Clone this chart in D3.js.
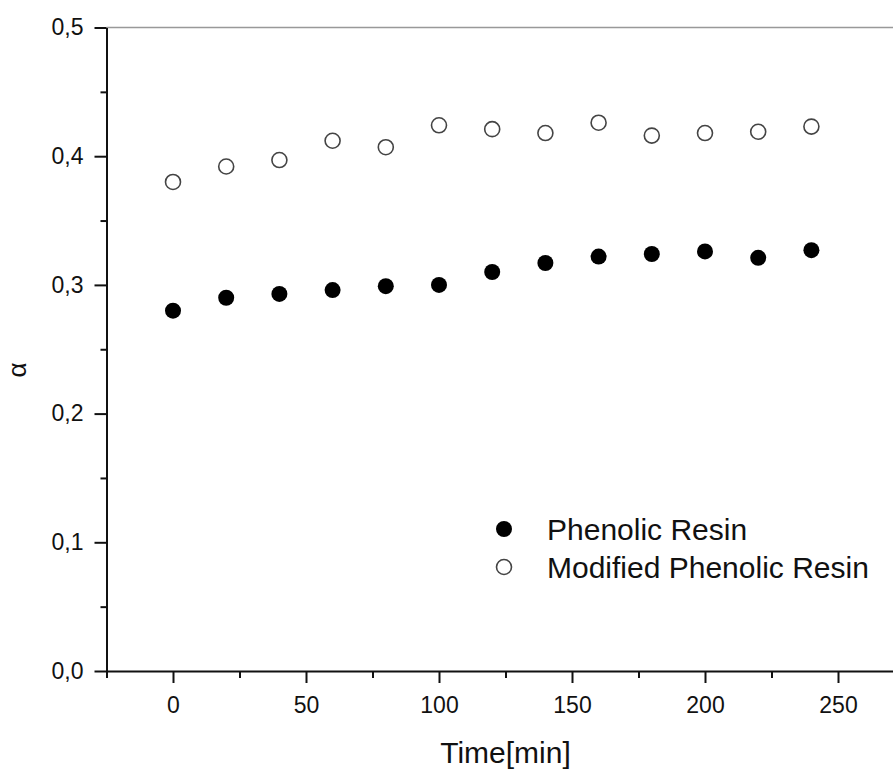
<!DOCTYPE html>
<html>
<head>
<meta charset="utf-8">
<script src="https://cdn.jsdelivr.net/npm/d3@7"></script>
<style>
  body { margin: 0; background: #fff; }
  svg { display: block; }
  svg text { font-family: "Liberation Sans", Arial, sans-serif; }
</style>
</head>
<body>
<div id="chart"></div>
<script>
const times = [0, 20, 40, 60, 80, 100, 120, 140, 160, 180, 200, 220, 240]
const phenolic = [0.280, 0.290, 0.293, 0.296, 0.299, 0.300, 0.310, 0.317, 0.322, 0.324, 0.326, 0.321, 0.327]
const modified = [0.380, 0.392, 0.397, 0.412, 0.407, 0.424, 0.421, 0.418, 0.426, 0.416, 0.418, 0.419, 0.423]
const seriesNames = ['Phenolic Resin', 'Modified Phenolic Resin']
const xTicks = [0, 50, 100, 150, 200, 250]
const yTicks = [0, 0.1, 0.2, 0.3, 0.4, 0.5]

const w = 893
const h = 769
const plotLeft = 106.5
const plotTop = 27.5
const plotBottom = 671

const xScale = d3.scaleLinear()
  .domain([-25, 275])
  .range([plotLeft, plotLeft + 300 * 2.66])

const yScale = d3.scaleLinear()
  .domain([0, 0.5])
  .range([plotBottom, plotTop])

const svg = d3.select('#chart')
  .append('svg')
  .attr('width', w)
  .attr('height', h)

// top frame line (grey, runs off the right edge)
svg.append('line')
  .attr('x1', plotLeft).attr('x2', w)
  .attr('y1', plotTop).attr('y2', plotTop)
  .attr('stroke', '#999')
  .attr('stroke-width', 1.5)

// minor ticks
const minorX = d3.range(-25, 276, 25).filter(d => !xTicks.includes(d))
const minorY = d3.range(0.05, 0.5, 0.1)

svg.append('g')
  .attr('transform', 'translate(0,' + plotBottom + ')')
  .call(d3.axisBottom(xScale).tickValues(minorX).tickSize(7).tickFormat(''))
  .call(g => g.select('.domain').remove())

svg.append('g')
  .attr('transform', 'translate(' + plotLeft + ',0)')
  .call(d3.axisLeft(yScale).tickValues(minorY).tickSize(6).tickFormat(''))
  .call(g => g.select('.domain').remove())

const fmt = d => d3.format('.1f')(d).replace('.', ',')

const xAxis = svg.append('g')
  .attr('transform', 'translate(0,' + plotBottom + ')')
  .call(d3.axisBottom(xScale).tickValues(xTicks).tickSize(12).tickPadding(14).tickSizeOuter(0))

const yAxis = svg.append('g')
  .attr('transform', 'translate(' + plotLeft + ',0)')
  .call(d3.axisLeft(yScale).tickValues(yTicks).tickSize(12).tickPadding(11).tickFormat(fmt).tickSizeOuter(0))

svg.selectAll('.tick line, .domain')
  .attr('stroke', '#111')
  .attr('stroke-width', 2)

xAxis.selectAll('text').attr('font-size', 23).attr('fill', '#111')
yAxis.selectAll('text').attr('font-size', 23).attr('fill', '#111')

// axis titles
svg.append('text')
  .attr('x', (plotLeft + xScale(275)) / 2)
  .attr('y', 763)
  .attr('text-anchor', 'middle')
  .attr('font-size', 30)
  .attr('fill', '#111')
  .text('Time[min]')

svg.append('text')
  .attr('transform', 'translate(26,370) rotate(-90)')
  .attr('text-anchor', 'middle')
  .attr('font-size', 26)
  .attr('fill', '#111')
  .text('α')

// data points
svg.selectAll('.modified')
  .data(times)
  .enter()
  .append('circle')
  .attr('class', 'modified')
  .attr('cx', d => xScale(d))
  .attr('cy', (d, i) => yScale(modified[i]))
  .attr('r', 7.5)
  .attr('fill', 'none')
  .attr('stroke', '#444')
  .attr('stroke-width', 1.6)

svg.selectAll('.phenolic')
  .data(times)
  .enter()
  .append('circle')
  .attr('class', 'phenolic')
  .attr('cx', d => xScale(d))
  .attr('cy', (d, i) => yScale(phenolic[i]))
  .attr('r', 8)
  .attr('fill', '#000')

// legend
const legend = svg.append('g')
  .attr('transform', 'translate(504,529)')

legend.selectAll('g')
  .data(seriesNames)
  .enter()
  .append('g')
  .attr('transform', (d, i) => 'translate(0,' + i * 38 + ')')
  .each(function (d, i) {
    const g = d3.select(this)
    g.append('circle')
      .attr('r', i === 0 ? 8 : 7.5)
      .attr('fill', i === 0 ? '#000' : 'none')
      .attr('stroke', i === 0 ? 'none' : '#444')
      .attr('stroke-width', 1.6)
    g.append('text')
      .attr('x', 43)
      .attr('y', 11)
      .attr('font-size', 30)
      .attr('fill', '#111')
      .text(d)
  })
</script>
</body>
</html>
